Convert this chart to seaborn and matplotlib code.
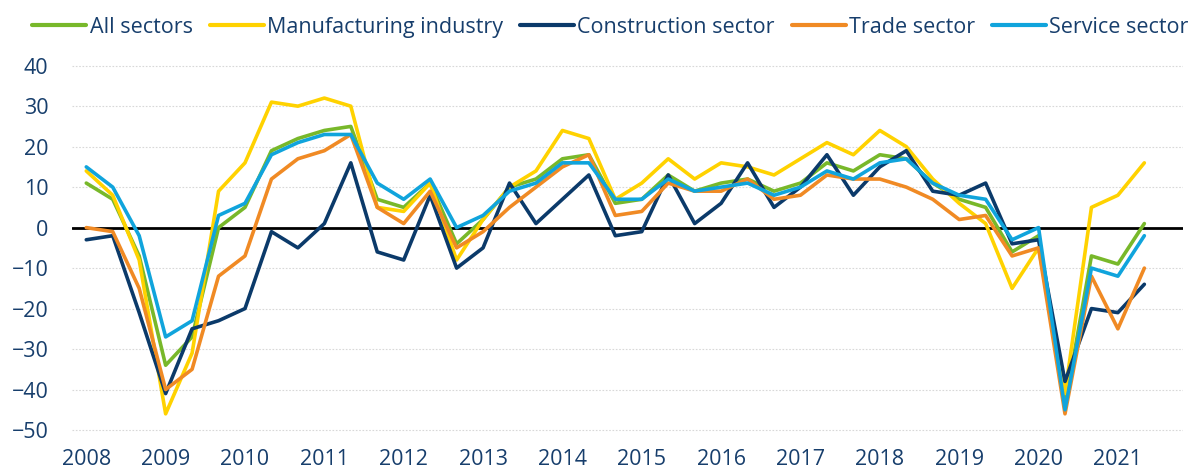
"""
Business climate by sector, 2008-2021 (balance values).
"""
import numpy as np
import pandas as pd
import matplotlib
matplotlib.use('Agg')
import matplotlib.pyplot as plt
import seaborn as sns

# Three readings per year, 2008 to 2021 (first two of 2021)
periods = [2008 + i / 3 for i in range(41)]

all_sectors = [11, 7, -7, -34, -27, 0, 5, 19, 22, 24, 25, 7, 5, 11, -4, 2, 10, 12, 17, 18,
               6, 7, 13, 9, 11, 12, 9, 11, 16, 14, 18, 17, 11, 7, 5, -6, -2, -44, -7, -9, 1]
manufacturing = [14, 8, -8, -46, -31, 9, 16, 31, 30, 32, 30, 5, 4, 11, -8, 2, 10, 14, 24, 22,
                 7, 11, 17, 12, 16, 15, 13, 17, 21, 18, 24, 20, 12, 6, 1, -15, -5, -41, 5, 8, 16]
construction = [-3, -2, -21, -41, -25, -23, -20, -1, -5, 1, 16, -6, -8, 8, -10, -5, 11, 1, 7, 13,
                -2, -1, 13, 1, 6, 16, 5, 10, 18, 8, 15, 19, 9, 8, 11, -4, -3, -38, -20, -21, -14]
trade = [0, -1, -15, -40, -35, -12, -7, 12, 17, 19, 23, 5, 1, 9, -5, -1, 5, 10, 15, 18,
         3, 4, 11, 9, 9, 12, 7, 8, 13, 12, 12, 10, 7, 2, 3, -7, -5, -46, -12, -25, -10]
services = [15, 10, -2, -27, -23, 3, 6, 18, 21, 23, 23, 11, 7, 12, 0, 3, 9, 11, 16, 16,
            7, 7, 12, 9, 10, 11, 8, 10, 14, 12, 16, 17, 11, 8, 7, -3, 0, -45, -10, -12, -2]

series_names = ["All sectors", "Manufacturing industry", "Construction sector",
                "Trade sector", "Service sector"]
series_values = [all_sectors, manufacturing, construction, trade, services]
colors = ["#78b82a", "#ffd200", "#0b3a6a", "#f08a24", "#10a4dc"]
text_color = "#173e6c"

year_ticks = list(range(2008, 2022))
y_ticks = list(range(-50, 41, 10))

df = pd.concat([pd.DataFrame({"period": periods, "value": v, "sector": n})
                for n, v in zip(series_names, series_values)], ignore_index=True)

sns.set_style("white")
plt.rcParams['font.family'] = ['Open Sans', 'DejaVu Sans']

fig = plt.figure(figsize=(11.96, 4.75), dpi=100)
ax = fig.add_axes([0.0602, 0.0819, 0.9289, 0.7926])

# grid and zero line
for y in y_ticks:
    ax.axhline(y, color='#d8d8d8', linestyle=(0, (1.5, 1.5)), linewidth=0.8, zorder=0)
ax.axhline(0, color='black', linewidth=2, zorder=1)

sns.lineplot(data=df, x="period", y="value", hue="sector", hue_order=series_names,
             palette=colors, linewidth=2.6, ax=ax, legend=True, zorder=3)

ax.set_xlim(2007.82, 2021.82)
ax.set_ylim(-51.5, 41.5)
ax.set_xticks(year_ticks)
ax.set_xticklabels([str(y) for y in year_ticks])
ax.set_yticks(y_ticks)
ax.set_xlabel("")
ax.set_ylabel("")
ax.tick_params(axis='both', length=0, labelsize=15.5, colors=text_color)
ax.tick_params(axis='y', pad=17)
ax.tick_params(axis='x', pad=9)
for s in ax.spines.values():
    s.set_visible(False)

handles, labels = ax.get_legend_handles_labels()
ax.legend_.remove()
for h in handles:
    h.set_linewidth(3)
leg = fig.legend(handles, labels, loc='upper center', bbox_to_anchor=(0.5105, 1.005), ncol=5,
                 frameon=False, fontsize=15.5, handlelength=2.5, handletextpad=0.15,
                 columnspacing=0.8)
for t in leg.get_texts():
    t.set_color(text_color)

plt.savefig("out.png", dpi=100)
plt.close()
